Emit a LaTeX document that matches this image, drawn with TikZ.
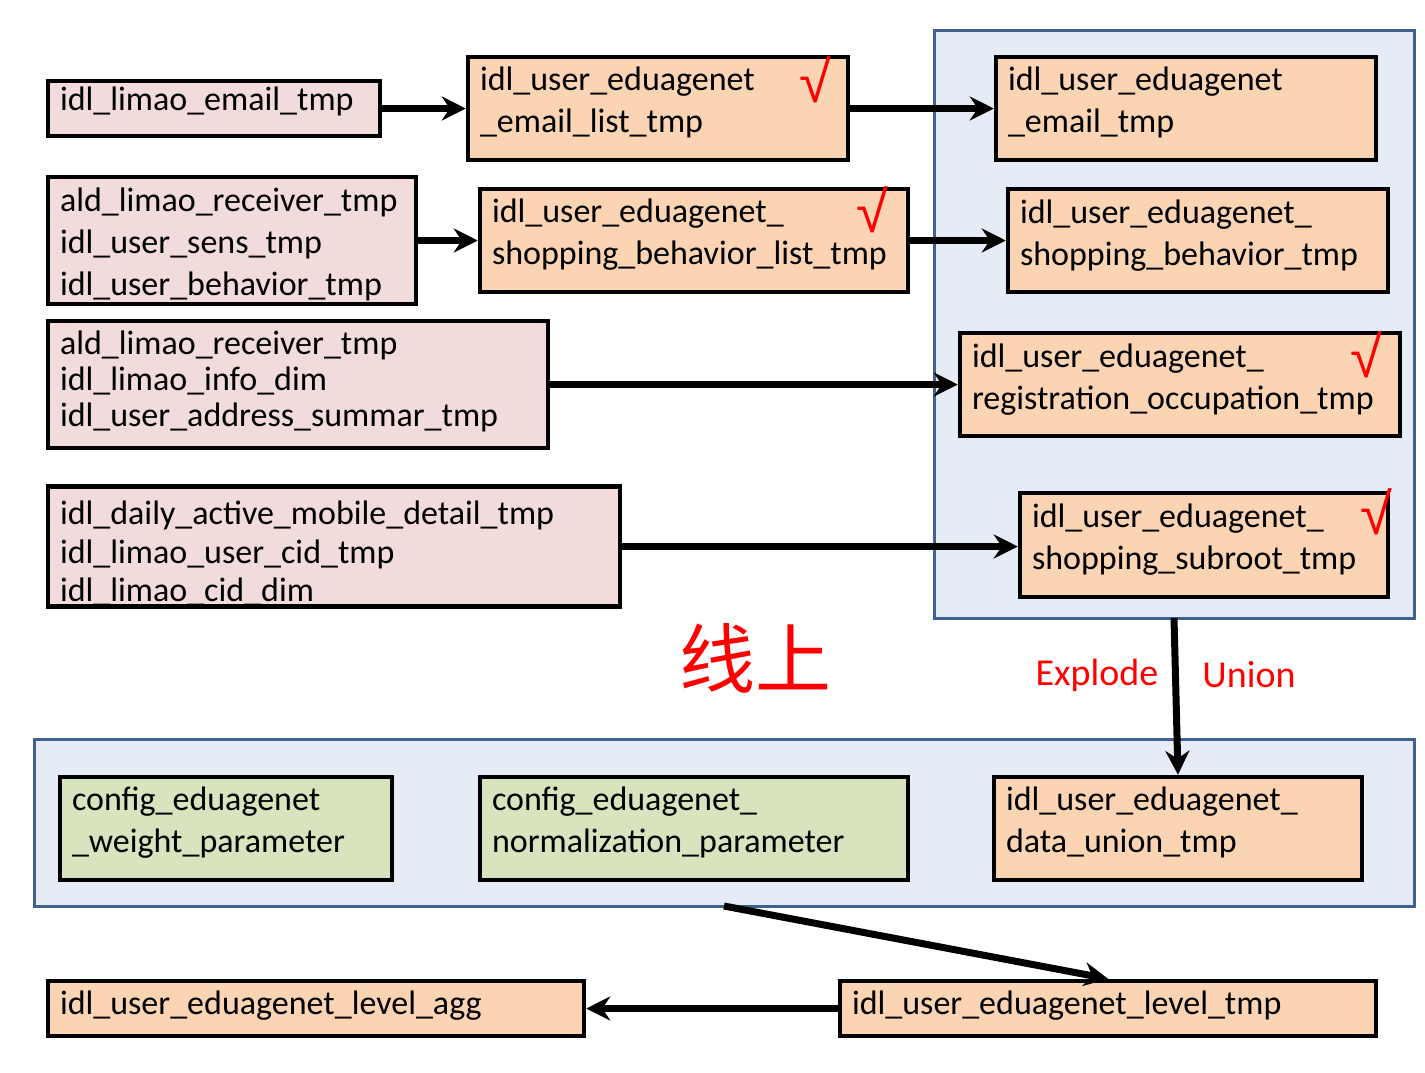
\documentclass[tikz,border=0pt]{standalone}
\usepackage{fontspec}
\setmainfont{Carlito}
\newfontfamily\cjkfont{Noto Sans CJK SC}
\newfontfamily\checkfont{Liberation Sans}
\usetikzlibrary{arrows.meta}
\definecolor{pinkf}{HTML}{F2DCDB}
\definecolor{orangef}{HTML}{FBD4B4}
\definecolor{greenf}{HTML}{D7E4BD}
\definecolor{bluef}{HTML}{E6ECF5}
\definecolor{blued}{HTML}{41628E}
\definecolor{redt}{HTML}{FF0000}
\newcommand{\fsz}[2]{\fontsize{#1}{#2}\selectfont}
\tikzset{
  x=1pt, y=-1pt,
  tbox/.style={draw=black, line width=4.5pt, rectangle, inner xsep=12pt, inner ysep=0pt,
               align=left, font=\fsz{34}{42}},
  pinkbox/.style={tbox, fill=pinkf},
  orangebox/.style={tbox, fill=orangef},
  greenbox/.style={tbox, fill=greenf},
  txtup/.style={execute at end node={\rule[-#1]{0pt}{#1}}},
  txtdown/.style={execute at begin node={\rule{0pt}{#1}}},
  container/.style={draw=blued, line width=3pt, fill=bluef},
  arr/.style={line width=7pt, -{Stealth[length=24pt, width=24pt, inset=8pt]}},
  chk/.style={text=redt, font=\checkfont\fsz{58}{58}, inner sep=0pt},
  redlabel/.style={text=redt, font=\fsz{38}{40}, inner sep=0pt}
}
\begin{document}
\begin{tikzpicture}
\useasboundingbox (0,0) rectangle (1425,1072);
% containers
\draw[container] (934,30) rectangle (1414,618);
\draw[container] (34,739) rectangle (1414,906);
\coordinate (ts) at (1174,618);
\coordinate (bs) at (724,906);

% left sources
\node[pinkbox, txtup=20pt, minimum width=332pt, minimum height=55pt, text width=308pt] (A1) at (214,108.5) {idl\_limao\_email\_tmp};
\node[pinkbox, txtdown=32pt, minimum width=368pt, minimum height=127pt, text width=344pt] (A2) at (232,240.5) {ald\_limao\_receiver\_tmp\\idl\_user\_sens\_tmp\\idl\_user\_behavior\_tmp};
\node[pinkbox, txtup=12pt, minimum width=500pt, minimum height=127pt, text width=476pt, font=\fsz{34}{36}] (A3) at (298,384.5) {ald\_limao\_receiver\_tmp\\idl\_limao\_info\_dim\\idl\_user\_address\_summar\_tmp};
\node[pinkbox, txtdown=38pt, minimum width=572pt, minimum height=115pt, text width=548pt, font=\fsz{34}{38.5}] (A4) at (334,546.5) {idl\_daily\_active\_mobile\_detail\_tmp\\idl\_limao\_user\_cid\_tmp\\idl\_limao\_cid\_dim};

% middle lists
\node[orangebox, txtup=18pt, minimum width=380pt, minimum height=103pt, text width=356pt] (B1) at (658,108.5) {idl\_user\_eduagenet\\\_email\_list\_tmp};
\node[orangebox, txtup=17pt, minimum width=428pt, minimum height=103pt, text width=404pt] (B2) at (694,240.5) {idl\_user\_eduagenet\_\\shopping\_behavior\_list\_tmp};

% right targets
\node[orangebox, txtup=18pt, minimum width=380pt, minimum height=103pt, text width=356pt] (C1) at (1186,108.5) {idl\_user\_eduagenet\\\_email\_tmp};
\node[orangebox, txtup=16pt, minimum width=380pt, minimum height=103pt, text width=356pt] (C2) at (1198,240.5) {idl\_user\_eduagenet\_\\shopping\_behavior\_tmp};
\node[orangebox, txtup=16pt, minimum width=440pt, minimum height=103pt, text width=416pt] (C3) at (1180,384.5) {idl\_user\_eduagenet\_\\registration\_occupation\_tmp};
\node[orangebox, txtup=16pt, minimum width=368pt, minimum height=104pt, text width=344pt] (C4) at (1204,545) {idl\_user\_eduagenet\_\\shopping\_subroot\_tmp};

% check marks
\node[chk] (k1) at (815,80) {√};
\node[chk] (k2) at (872,210) {√};
\node[chk] (k3) at (1366,355) {√};
\node[chk] (k4) at (1376,512) {√};

% bottom container
\node[greenbox, txtup=18pt, minimum width=332pt, minimum height=103pt, text width=308pt] (G1) at (226,828.5) {config\_eduagenet\\\_weight\_parameter};
\node[greenbox, txtup=17pt, minimum width=428pt, minimum height=103pt, text width=404pt] (G2) at (694,828.5) {config\_eduagenet\_\\normalization\_parameter};
\node[orangebox, txtup=17pt, minimum width=368pt, minimum height=103pt, text width=344pt] (D) at (1178,828.5) {idl\_user\_eduagenet\_\\data\_union\_tmp};

% final
\node[orangebox, txtup=12pt, minimum width=536pt, minimum height=55pt, text width=512pt] (K) at (316,1008.5) {idl\_user\_eduagenet\_level\_agg};
\node[orangebox, txtup=12pt, minimum width=536pt, minimum height=55pt, text width=512pt] (L) at (1108,1008.5) {idl\_user\_eduagenet\_level\_tmp};

% labels
\node[text=redt, font=\cjkfont\fsz{76}{80}, inner sep=0pt] (xs) at (755,658) {线上};
\node[redlabel] (ex) at (1097,675) {Explode};
\node[redlabel] (un) at (1249,675) {Union};

% connectors
\draw[arr] (A1) -- (B1);
\draw[arr] (B1) -- (C1);
\draw[arr] (A2) -- (B2);
\draw[arr] (B2) -- (C2);
\draw[arr] (A3) -- (C3);
\draw[arr] (A4.east) -- (A4.east -| C4.west);
\draw[arr] (ts) -- (D.north);
\draw[arr] (bs) -- (L.north);
\draw[arr] (L) -- (K);
\end{tikzpicture}
\end{document}
